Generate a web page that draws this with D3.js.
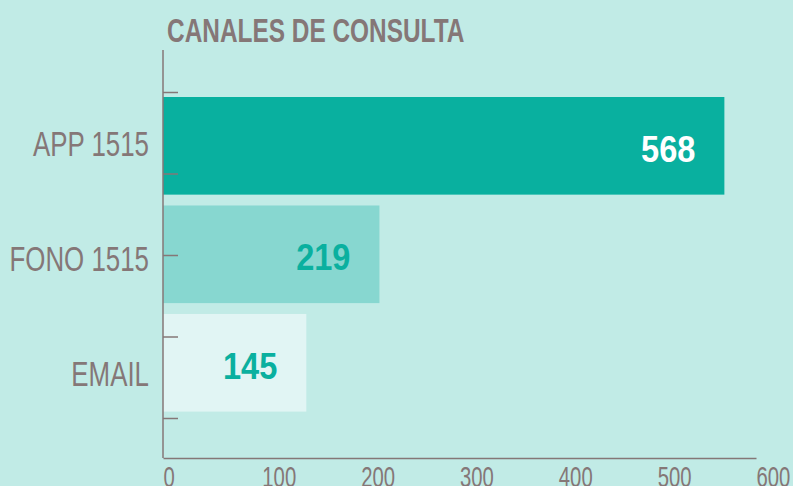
<!doctype html>
<html>
<head>
    <script src="https://d3js.org/d3.v7.min.js"></script>
<style>
    body { margin: 0; background: #c1ebe6; }
    svg { display: block; }
</style>
</head>
<body>

<svg width="793" height="486"></svg>
<script>
        // data
        var categories = ["APP 1515", "FONO 1515", "EMAIL"];
        var values = [568, 219, 145];
        var barColors = ["#09b09f", "#87d7d0", "#e1f5f4"];
        var labelColors = ["#ffffff", "#0ab09f", "#0ab09f"];
        var xTicks = [0, 100, 200, 300, 400, 500, 600];
        var yTickMarks = [0, 1, 2, 3, 4];

        var grey = "#857777";
        var font = "'Liberation Sans', Arial, sans-serif";
        var svg = d3.select("svg");

        // narrow the text horizontally, the original uses a condensed face
        function narrow(x, y, sx) {
            return "translate(" + x + "," + y + ") scale(" + sx + ",1)";
        }

        svg.append("rect")
           .attr("width", 793)
           .attr("height", 486)
           .attr("fill", "#c1ebe6");

        var xScale = d3.scaleLinear().domain([0, 600]).range([163, 756]),
            yScale = d3.scaleBand().domain(categories).range([97, 411.6]).paddingInner(0.1).paddingOuter(0),
            labelScale = d3.scalePoint().domain(categories).range([156, 386]),
            tickScale = d3.scaleLinear().domain([0, 4]).range([92, 418]);

        // Title
        svg.append("text")
           .attr("transform", narrow(167, 42, 0.74))
           .style("font-family", font)
           .style("font-weight", "bold")
           .style("font-size", "33px")
           .style("fill", grey)
           .text("CANALES DE CONSULTA");

        // bars
        svg.append("g")
           .selectAll("rect")
           .data(values)
           .enter()
           .append("rect")
           .attr("x", xScale(0))
           .attr("y", function (d, i) { return yScale(categories[i]); })
           .attr("width", function (d) { return xScale(d) - xScale(0); })
           .attr("height", yScale.bandwidth())
           .attr("fill", function (d, i) { return barColors[i]; });

        // value labels
        svg.append("g")
           .selectAll("text")
           .data(values)
           .enter()
           .append("text")
           .attr("transform", function (d, i) {
               return narrow(xScale(d) - 29, yScale(categories[i]) + yScale.bandwidth() / 2 + 16, 0.88);
           })
           .attr("text-anchor", "end")
           .style("font-family", font)
           .style("font-weight", "bold")
           .style("font-size", "37px")
           .style("fill", function (d, i) { return labelColors[i]; })
           .text(function (d) { return d; });

        // category labels
        svg.append("g")
           .selectAll("text")
           .data(categories)
           .enter()
           .append("text")
           .attr("transform", function (d) {
               return narrow(xScale(0) - 14, labelScale(d), 0.74);
           })
           .attr("text-anchor", "end")
           .style("font-family", font)
           .style("font-size", "35px")
           .style("fill", grey)
           .text(function (d) { return d; });

        // y axis with tick marks (no labels)
        var yAxis = svg.append("g")
           .attr("transform", "translate(" + xScale(0) + ",0)")
           .call(d3.axisRight(tickScale).tickValues(yTickMarks).tickSize(15).tickFormat(""));
        yAxis.select(".domain").remove();
        yAxis.selectAll("line").attr("stroke", grey).attr("stroke-width", 1.5);

        svg.append("line")
           .attr("x1", xScale(0)).attr("x2", xScale(0))
           .attr("y1", 50).attr("y2", 458)
           .attr("stroke", grey)
           .attr("stroke-width", 1.5);

        // x axis
        var xAxis = svg.append("g")
           .attr("transform", "translate(0,458)")
           .call(d3.axisBottom(xScale).tickValues(xTicks).tickSize(0).tickPadding(0));
        xAxis.select(".domain").attr("stroke", grey).attr("stroke-width", 1.5);
        xAxis.selectAll(".tick text")
           .attr("text-anchor", "start")
           .attr("dy", 0)
           .attr("y", null)
           .attr("transform", narrow(0, 29, 0.7))
           .style("font-family", font)
           .style("font-size", "29px")
           .style("fill", grey);
</script>
</body>
</html>
